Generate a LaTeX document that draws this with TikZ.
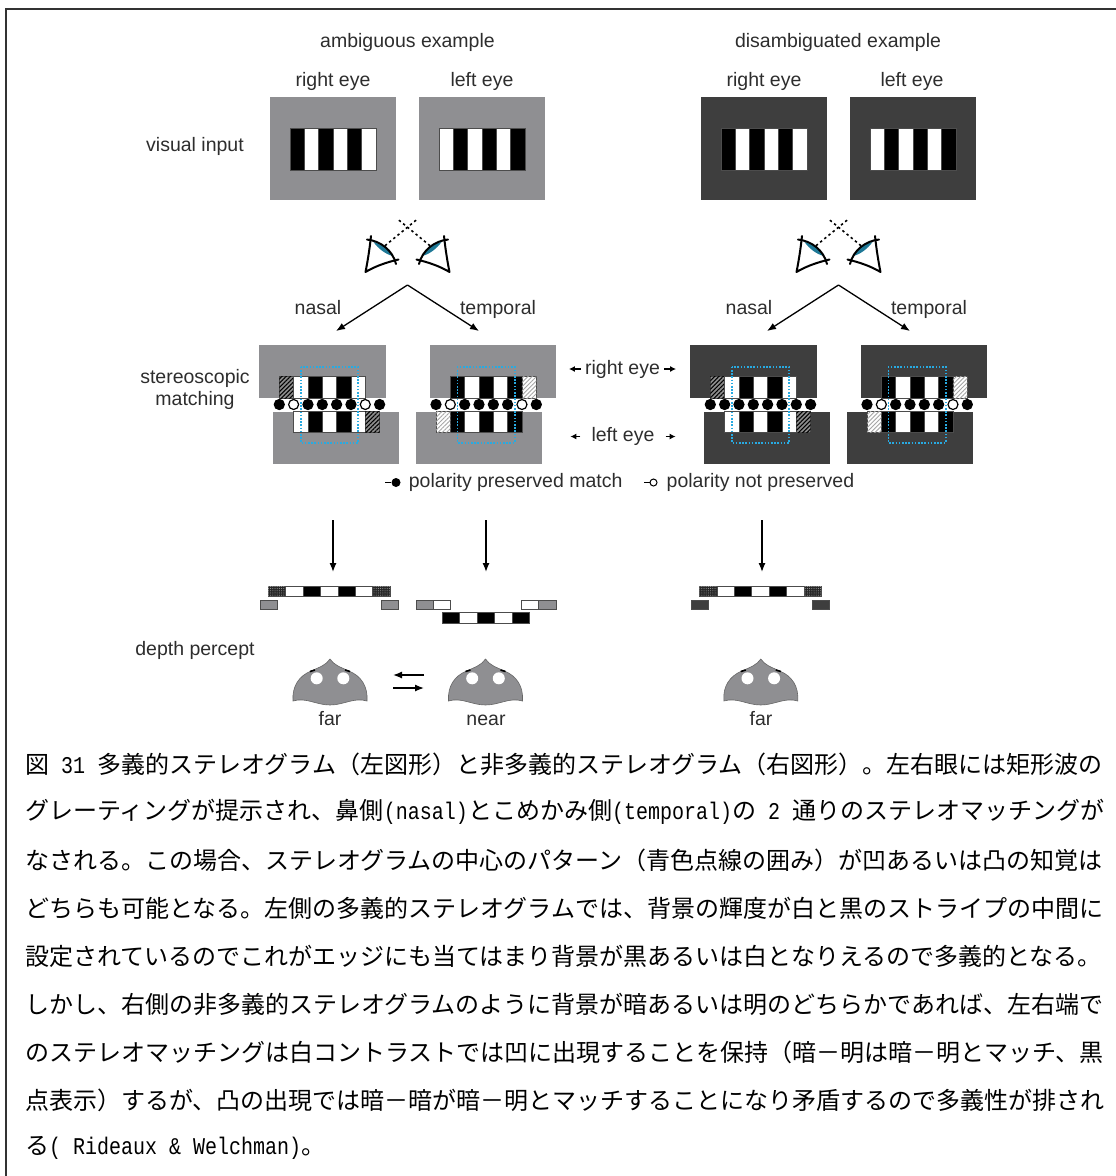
\documentclass[tikz,border=0pt]{standalone}
\usepackage{fontspec}
\setmainfont{Liberation Sans}
\newfontfamily\cjk{Noto Sans CJK JP}
\newfontfamily\capmono[FakeStretch=0.8333]{Liberation Mono}
\usetikzlibrary{arrows.meta,patterns.meta,positioning}

\definecolor{panelgray}{RGB}{143,143,146}
\definecolor{paneldark}{RGB}{62,62,62}
\definecolor{windowblue}{RGB}{40,170,225}
\definecolor{inkgray}{RGB}{45,45,45}
\definecolor{irisblue}{RGB}{30,120,150}

\newcommand{\cw}{14.33}

\tikzset{
  lbl/.style={font=\fontsize{19.5}{22}\selectfont, text=inkgray, inner sep=0pt,
    text height=14pt, text depth=4pt},
  capline/.style={font=\cjk\fontsize{24}{24}\selectfont, anchor=west, inner sep=0pt},
  stripe/.style={draw=black!70, line width=0.6pt},
  hatchdark/.style={fill=black!45, postaction={pattern={Lines[angle=45,distance=3pt,line width=1.1pt]}, pattern color=black}},
  hatchlight/.style={fill=white, postaction={pattern={Lines[angle=45,distance=3pt,line width=0.9pt]}, pattern color=black!35}},
  stipple/.style={fill=black!85, postaction={pattern={Dots[radius=0.5pt,distance=2.2pt]}, pattern color=black!35}},
  window/.style={windowblue, line width=1.8pt, dash pattern=on 1.6pt off 1.6pt},
  matchdot/.style={draw=black, line width=1.2pt},
  flow/.style={-{Latex[length=9pt,width=7pt]}, line width=1.3pt, black},
  tick/.style={-{Latex[length=6pt,width=6pt]}, line width=1.3pt, black},
  sight/.style={black, line width=1.6pt, dash pattern=on 2.4pt off 3pt},
  eyeline/.style={black, line width=2pt, line cap=round, line join=round},
  headshape/.style={fill=panelgray, draw=black!60, line width=0.6pt},
  frame/.style={draw=black!80, line width=2pt}
}

% grey card with a six-bar grating
\newcommand{\stimulus}[4]{%
  \fill[#2] (#1,97) rectangle ++(126,103);
  \foreach \k/\c in {0/#3,1/#4,2/#3,3/#4,4/#3,5/#4}
    \draw[stripe, fill=\c] ({#1+20+\k*\cw},128.3) rectangle ++(\cw,42.4);
}

% row of matches between the two eyes, #2 = fill of the second and sixth dot
\newcommand{\matchdots}[2]{%
  \foreach \k/\c in {0/black,1/#2,2/black,3/black,4/black,5/black,6/#2,7/black}
    \draw[matchdot, fill=\c] ({#1-50+\k*\cw},404.5) circle (5pt);
}

\newcommand{\nasalpanel}[3]{%
  \fill[#2] (#1-70,345) rectangle (#1+57,398);
  \fill[#2] (#1-56,411.7) rectangle (#1+70,464);
  \draw[stripe, hatchdark] (#1-50,376.7) rectangle ++(\cw,21.3);
  \foreach \k/\c in {1/white,2/black,3/white,4/black,5/white}{
    \draw[stripe, fill=\c] ({#1-50+\k*\cw},376.7) rectangle ++(\cw,21.3);
    \draw[stripe, fill=\c] ({#1-50+\k*\cw},411.7) rectangle ++(\cw,21);
  }
  \draw[stripe, hatchdark] ({#1-50+6*\cw},411.7) rectangle ++(\cw,21);
  \matchdots{#1}{#3}
  \draw[window] (#1-28.6,366.7) rectangle (#1+28.6,442.7);
}

\newcommand{\temporalpanel}[3]{%
  \fill[#2] (#1-56,345) rectangle (#1+70,398);
  \fill[#2] (#1-70,411.7) rectangle (#1+56,464);
  \foreach \k/\c in {1/black,2/white,3/black,4/white,5/black}{
    \draw[stripe, fill=\c] ({#1-50+\k*\cw},376.7) rectangle ++(\cw,21.3);
    \draw[stripe, fill=\c] ({#1-50+\k*\cw},411.7) rectangle ++(\cw,21);
  }
  \draw[stripe, hatchlight] ({#1-50+6*\cw},376.7) rectangle ++(\cw,21.3);
  \draw[stripe, hatchlight] (#1-50,411.7) rectangle ++(\cw,21);
  \matchdots{#1}{#3}
  \draw[window] (#1-28.6,366.7) rectangle (#1+28.6,442.7);
}

\newcommand{\farpercept}[2]{%
  \draw[stripe, stipple] (#1-61,586) rectangle ++(17.4,10.7);
  \foreach \k/\c in {1/white,2/black,3/white,4/black,5/white}
    \draw[stripe, fill=\c] ({#1-61+\k*17.4},586) rectangle ++(17.4,10.7);
  \draw[stripe, stipple] ({#1-61+6*17.4},586) rectangle ++(17.4,10.7);
  \draw[stripe, fill=#2] (#1-69.2,600) rectangle ++(17.4,9.3);
  \draw[stripe, fill=#2] (#1+51.8,600) rectangle ++(17.4,9.3);
}

\newcommand{\nearpercept}[1]{%
  \draw[stripe, fill=panelgray] (#1-70,600) rectangle ++(17.4,9.3);
  \draw[stripe, fill=white] (#1-52.6,600) rectangle ++(17.4,9.3);
  \draw[stripe, fill=white] (#1+35.2,600) rectangle ++(17.4,9.3);
  \draw[stripe, fill=panelgray] (#1+52.6,600) rectangle ++(17.4,9.3);
  \foreach \k/\c in {0/black,1/white,2/black,3/white,4/black}
    \draw[stripe, fill=\c] ({#1-43.5+\k*17.4},612.7) rectangle ++(17.4,10.6);
}

% head seen from above
\newcommand{\observer}[1]{%
  \begin{scope}[shift={(#1,0)}]
    \path[headshape] (-37,701) .. controls (-38,686) and (-31,676) .. (-19,671)
      .. controls (-10,667) and (-4,665) .. (0,659)
      .. controls (4,665) and (10,667) .. (19,671)
      .. controls (31,676) and (38,686) .. (37,701)
      .. controls (24,697) and (14,705) .. (0,705)
      .. controls (-14,705) and (-24,697) .. (-37,701) -- cycle;
    \fill[white] (-13.3,678.3) circle (6pt) (13.3,678.3) circle (6pt);
    \draw[black, line width=1.6pt] (-20,671.5) -- (-15,670) (15,670) -- (20,671.5);
  \end{scope}
}

% pair of eyes with crossing lines of sight
\newcommand{\eyes}[1]{%
  \foreach \s in {1,-1}{
    \begin{scope}[shift={(#1,0)}, xscale=\s]
      \draw[sight] (-22.5,245.7) -- (10,219);
      \fill[irisblue] (-34,242) .. controls (-26,244) and (-19,249) .. (-15,256)
        .. controls (-22,254) and (-29,249) .. cycle;
      \draw[eyeline] (-36.5,236) .. controls (-38,250) and (-40,262) .. (-42,272)
        .. controls (-32,266) and (-20,262) .. (-9,259.5);
      \draw[eyeline] (-40.5,239.5) .. controls (-27,241) and (-15,250) .. (-11.5,264);
    \end{scope}
  }
}

\begin{document}
\begin{tikzpicture}[x=1pt, y=-1pt]
  \useasboundingbox (0,0) rectangle (1116,1176);
  \draw[frame] (1120,9) -- (6,9) -- (6,1180);

  % headings
  \node[lbl] (ambig) at (407.5,42) {ambiguous example};
  \node[lbl] (disambig) at (838,42) {disambiguated example};
  \node[lbl] (rtA) at (333,81) {right eye};
  \node[lbl] (ltA) at (482,81) {left eye};
  \node[lbl] (rtB) at (764,81) {right eye};
  \node[lbl] (ltB) at (912,81) {left eye};
  \node[lbl] (input) at (195,146) {visual input};
  \node[lbl, align=center] (stereo) at (195,400) {stereoscopic\\matching};
  \node[lbl] (depth) at (195,650) {depth percept};

  % visual input
  \stimulus{270}{panelgray}{black}{white}
  \stimulus{419}{panelgray}{white}{black}
  \stimulus{701}{paneldark}{black}{white}
  \stimulus{850}{paneldark}{white}{black}

  % eyes and the two pairings
  \eyes{407.5}
  \eyes{838.5}
  \coordinate (apexA) at (407.5,285);
  \coordinate (apexB) at (838.5,285);
  \coordinate (nasA) at (336,331);
  \coordinate (tmpA) at (479,331);
  \coordinate (nasB) at (767,331);
  \coordinate (tmpB) at (910,331);
  \draw[flow] (apexA) -- (nasA);
  \draw[flow] (apexA) -- (tmpA);
  \draw[flow] (apexB) -- (nasB);
  \draw[flow] (apexB) -- (tmpB);
  \node[lbl] (nasalA) at (318,309) {nasal};
  \node[lbl] (temporalA) at (498,309) {temporal};
  \node[lbl] (nasalB) at (749,309) {nasal};
  \node[lbl] (temporalB) at (929,309) {temporal};

  % stereoscopic matching
  \nasalpanel{329.3}{panelgray}{white}
  \temporalpanel{486}{panelgray}{white}
  \nasalpanel{760.3}{paneldark}{black}
  \temporalpanel{917}{paneldark}{white}

  \node[lbl] (reye) at (622.5,369) {right eye};
  \node[lbl] (leye) at (623,436.5) {left eye};
  \draw[tick] ([xshift=-4pt]reye.west) -- ++(-12,0);
  \draw[tick] ([xshift=4pt]reye.east) -- ++(12,0);
  \draw[tick] ([xshift=-11pt]leye.west) -- ++(-10,0);
  \draw[tick] ([xshift=11pt]leye.east) -- ++(10,0);

  % legend
  \node[circle, fill=black, inner sep=0pt, minimum size=9pt] (keyfill) at (396,482.5) {};
  \draw[line width=1.2pt] (keyfill.west) -- ++(-6,0);
  \node[lbl, right=8pt of keyfill] (keyfilltxt) {polarity preserved match};
  \node[circle, draw=black, fill=white, line width=1pt, inner sep=0pt, minimum size=7pt] (keyopen) at (653.5,482.5) {};
  \draw[line width=1pt] (keyopen.west) -- ++(-6,0);
  \node[lbl, right=9pt of keyopen] (keyopentxt) {polarity not preserved};

  % resulting percepts
  \coordinate (srcA) at (333,520);
  \coordinate (dstA) at (333,572);
  \coordinate (srcB) at (486,520);
  \coordinate (dstB) at (486,572);
  \coordinate (srcC) at (762,520);
  \coordinate (dstC) at (762,572);
  \draw[flow] (srcA) -- (dstA);
  \draw[flow] (srcB) -- (dstB);
  \draw[flow] (srcC) -- (dstC);

  \farpercept{329.2}{panelgray}
  \nearpercept{485.8}
  \farpercept{760.5}{paneldark}

  \observer{330}
  \observer{485.5}
  \observer{760.8}
  \coordinate (swapR) at (424,675);
  \coordinate (swapL) at (393,675);
  \coordinate (swapR2) at (424,688);
  \coordinate (swapL2) at (393,688);
  \draw[flow] (swapR) -- (swapL);
  \draw[flow] (swapL2) -- (swapR2);
  \node[lbl] (farA) at (330,720) {far};
  \node[lbl] (nearA) at (486,720) {near};
  \node[lbl] (farB) at (761,720) {far};

  % caption
  \node[capline] (cap1) at (25,764) {図{\capmono\ 31\ }多義的ステレオグラム（左図形）と非多義的ステレオグラム（右図形）。左右眼には矩形波の};
  \node[capline] (cap2) at (25,812) {グレーティングが提示され、鼻側{\capmono(nasal)}とこめかみ側{\capmono(temporal)}の{\capmono\ 2\ }通りのステレオマッチングが};
  \node[capline] (cap3) at (25,860) {なされる。この場合、ステレオグラムの中心のパターン（青色点線の囲み）が凹あるいは凸の知覚は};
  \node[capline] (cap4) at (25,908) {どちらも可能となる。左側の多義的ステレオグラムでは、背景の輝度が白と黒のストライプの中間に};
  \node[capline] (cap5) at (25,956) {設定されているのでこれがエッジにも当てはまり背景が黒あるいは白となりえるので多義的となる。};
  \node[capline] (cap6) at (25,1004) {しかし、右側の非多義的ステレオグラムのように背景が暗あるいは明のどちらかであれば、左右端で};
  \node[capline] (cap7) at (25,1052) {のステレオマッチングは白コントラストでは凹に出現することを保持（暗－明は暗－明とマッチ、黒};
  \node[capline] (cap8) at (25,1100) {点表示）するが、凸の出現では暗－暗が暗－明とマッチすることになり矛盾するので多義性が排され};
  \node[capline] (cap9) at (25,1148) {る{\capmono(\ Rideaux \& Welchman)}。};
\end{tikzpicture}
\end{document}
